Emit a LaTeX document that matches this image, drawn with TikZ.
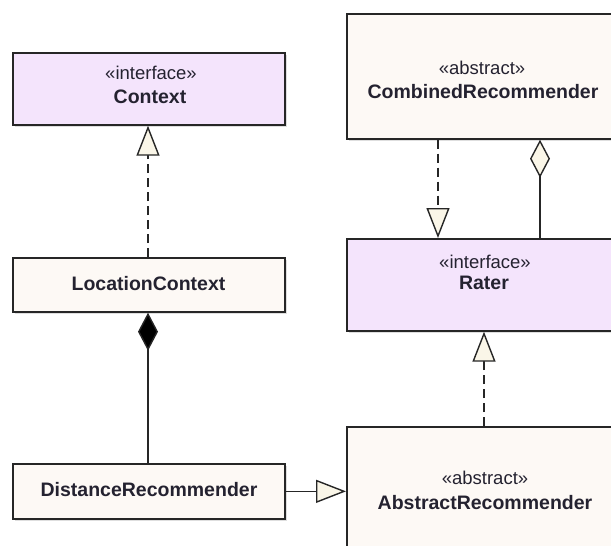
\documentclass[tikz,border=0pt]{standalone}
\usepackage{fontspec}
\setmainfont{Liberation Sans}
\usetikzlibrary{arrows.meta,shadows}
\definecolor{ifill}{RGB}{244,228,252}
\definecolor{afill}{RGB}{253,249,245}
\definecolor{tfill}{RGB}{250,246,232}
\definecolor{txt}{RGB}{36,34,48}
\begin{document}
\begin{tikzpicture}[x=1pt,y=-1pt,
  box/.style={draw=black!85, line width=1.7pt, inner sep=0pt, anchor=north west,
    drop shadow={shadow xshift=2.5pt, shadow yshift=-2.5pt, fill=black!25, opacity=.5}},
  ibox/.style={box, fill=ifill},
  abox/.style={box, fill=afill},
  stereo/.style={text=txt, font=\fontsize{18.5}{21}\selectfont, inner sep=0pt},
  cname/.style={text=txt, font=\fontsize{19.5}{22}\bfseries, inner sep=0pt},
  conn/.style={line width=1.4pt, draw=black!85},
  dashconn/.style={conn, dash pattern=on 9pt off 5pt},
  gen/.style={-{Triangle[length=30pt, width=23pt, fill=tfill, line width=1.4pt]}},
  comp/.style={{Diamond[length=38pt, width=20pt, fill=black]}-},
  aggr/.style={{Diamond[length=38pt, width=20pt, fill=tfill, line width=1.4pt]}-}
]
\useasboundingbox[fill=white] (0,0) rectangle (611,546);

% boxes
\node[ibox, minimum width=272pt, minimum height=72pt] (ctx) at (12,52) {};
\node[abox, minimum width=272pt, minimum height=54pt] (loc) at (12,257) {};
\node[abox, minimum width=272pt, minimum height=55pt] (dist) at (12,463) {};
\node[abox, minimum width=278pt, minimum height=125pt] (comb) at (346,13) {};
\node[ibox, minimum width=278pt, minimum height=92pt] (rater) at (346,238) {};
\node[abox, minimum width=278pt, minimum height=125pt] (abs) at (346,426) {};

% texts
\node[stereo] (ctxS) at (151,73) {«interface»};
\node[cname] (ctxN) at (150,97) {Context};
\node[cname] (locN) at (148.5,284) {LocationContext};
\node[cname] (distN) at (149,490) {DistanceRecommender};
\node[stereo] (combS) at (482,68) {«abstract»};
\node[cname] (combN) at (483,92) {CombinedRecommender};
\node[stereo] (raterS) at (485,262) {«interface»};
\node[cname] (raterN) at (484,283) {Rater};
\node[stereo] (absS) at (485,478) {«abstract»};
\node[cname] (absN) at (485,503) {AbstractRecommender};

% connectors
\draw[dashconn, gen] ([xshift=136pt]loc.north west) -- ([xshift=136pt]ctx.south west);
\draw[conn, comp] ([xshift=136pt]loc.south west) -- ([xshift=136pt]dist.north west);
\draw[conn, gen] (dist.east) -- (dist.east -| abs.west);
\draw[dashconn, gen] ([xshift=138pt]abs.north west) -- ([xshift=138pt]rater.south west);
\draw[dashconn, gen] ([xshift=92pt]comb.south west) -- ([xshift=92pt]rater.north west);
\draw[conn, aggr] ([xshift=194pt]comb.south west) -- ([xshift=194pt]rater.north west);
\end{tikzpicture}
\end{document}
